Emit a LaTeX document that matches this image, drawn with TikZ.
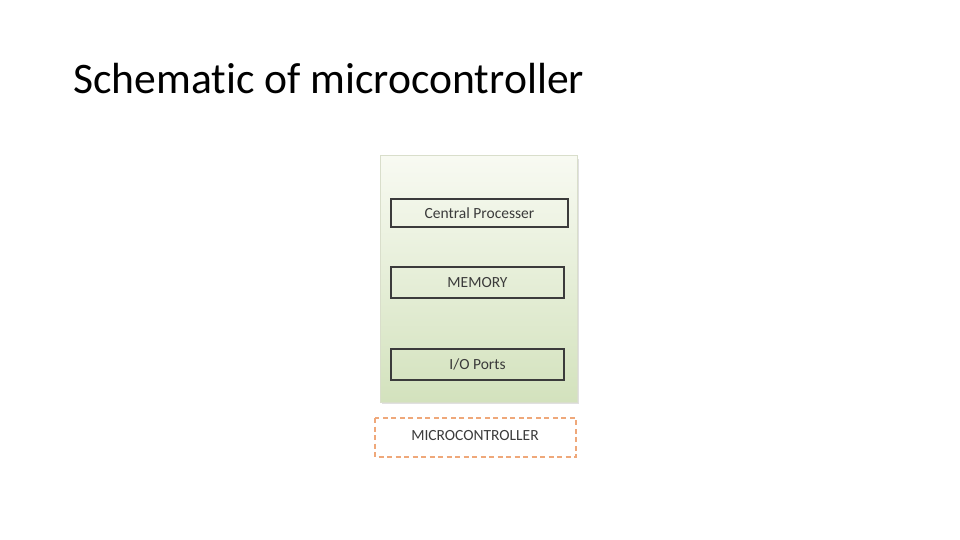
\documentclass[tikz,border=0pt]{standalone}
\usepackage{fontspec}
\setmainfont[Ligatures=NoCommon]{Carlito}
\usepackage{tikz}
\usetikzlibrary{calc}

\definecolor{boxtop}{HTML}{F8FAF2}
\definecolor{boxbottom}{HTML}{D3E2BD}
\definecolor{boxrim}{HTML}{D9DECB}
\definecolor{textgray}{HTML}{3B3B3B}
\definecolor{dashorange}{HTML}{EFA87A}

\begin{document}
\begin{tikzpicture}[x=1pt,y=-1pt]
\tikzset{unitbox/.style={draw=textgray,line width=1.3pt,inner sep=0pt,font=\fontsize{15.5}{18}\selectfont,text=textgray}}
\tikzset{labelbox/.style={draw=dashorange,dashed,dash pattern=on 5pt off 3.5pt,line width=1.5pt}}
\useasboundingbox (0,0) rectangle (960,540);
\node[anchor=base west,font=\fontsize{43.6}{50}\selectfont,inner sep=0pt] (title) at (73,94) {Schematic of microcontroller};

% green chip body
\fill[black,opacity=0.12] (382,159) rectangle (579,404);
\shade[top color=boxtop,bottom color=boxbottom,draw=boxrim,line width=1pt] (380,156) rectangle (577,402);

\coordinate (CP1) at (391,199);
\coordinate (CP2) at (568,227);
\coordinate (M1) at (391,267);
\coordinate (M2) at (564,298);
\coordinate (IO1) at (391,349);
\coordinate (IO2) at (564,380);

\node[unitbox] (cpu) at ($(CP1)!0.5!(CP2)$) [minimum width=177pt,minimum height=28pt] {\raisebox{-1.5pt}{Central Processer}};
\node[unitbox] (mem) at ($(M1)!0.5!(M2)$) [minimum width=173pt,minimum height=31pt] {\raisebox{-1.5pt}{MEMORY}};
\node[unitbox] (io) at ($(IO1)!0.5!(IO2)$) [minimum width=173pt,minimum height=31pt] {\raisebox{-1.5pt}{I/O Ports}};

\draw[labelbox] (375,418) rectangle (576,457);
\node[font=\fontsize{15.5}{18}\selectfont,text=textgray] (name) at (475,436) {MICROCONTROLLER};
\end{tikzpicture}
\end{document}
